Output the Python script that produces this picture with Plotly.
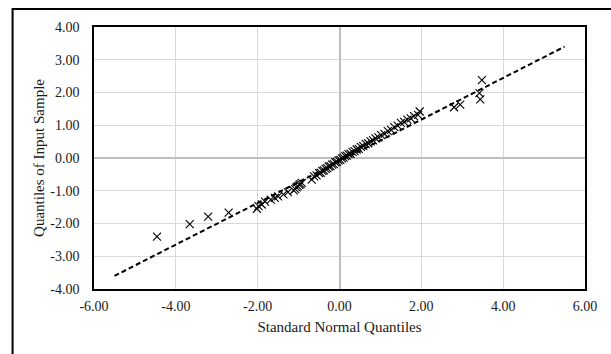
import plotly.graph_objects as go

# Sample points (standard normal quantile, sample quantile)
norm_q = [-4.46, -3.66, -3.21, -2.71,
          -2.02, -1.98, -1.90, -1.82, -1.68, -1.58, -1.50, -1.37, -1.26, -1.12,
          -1.08, -1.05, -1.02, -0.98, -0.95, -0.92,
          -0.68, -0.62, -0.56, -0.50, -0.46, -0.42, -0.38, -0.34, -0.30, -0.26,
          -0.22, -0.18, -0.14, -0.10, -0.06, -0.02, 0.02, 0.06, 0.10, 0.14,
          0.18, 0.22, 0.27, 0.32, 0.37, 0.42, 0.47, 0.52, 0.58, 0.64,
          0.70, 0.76, 0.82, 0.88, 0.95, 1.02, 1.10, 1.18, 1.26, 1.34,
          1.42, 1.50, 1.58, 1.66, 1.74, 1.82, 1.92, 1.96,
          2.80, 2.95, 3.42, 3.44, 3.48]
sample_q = [-2.40, -2.02, -1.79, -1.67,
            -1.55, -1.47, -1.42, -1.33, -1.27, -1.22, -1.17, -1.11, -1.04, -0.99,
            -0.95, -0.90, -0.86, -0.82, -0.80, -0.76,
            -0.66, -0.56, -0.53, -0.46, -0.45, -0.39, -0.38, -0.33, -0.31, -0.26,
            -0.25, -0.20, -0.19, -0.13, -0.12, -0.07, -0.06, -0.01, 0.01, 0.06,
            0.07, 0.12, 0.13, 0.19, 0.21, 0.26, 0.28, 0.34, 0.36, 0.43,
            0.45, 0.51, 0.54, 0.60, 0.63, 0.70, 0.74, 0.82, 0.86, 0.94,
            0.99, 1.07, 1.10, 1.17, 1.21, 1.28, 1.32, 1.42,
            1.55, 1.63, 1.98, 1.79, 2.38]

# Reference line endpoints
line_x = [-5.5, 5.5]
line_y = [-3.6, 3.4]

tick_vals_x = [-6, -4, -2, 0, 2, 4, 6]
tick_text_x = ["-6.00", "-4.00", "-2.00", "0.00", "2.00", "4.00", "6.00"]
tick_vals_y = [-4, -3, -2, -1, 0, 1, 2, 3, 4]
tick_text_y = ["-4.00", "-3.00", "-2.00", "-1.00", "0.00", "1.00", "2.00", "3.00", "4.00"]

FONT = "Liberation Serif, Times New Roman, serif"

fig = go.Figure()
fig.add_trace(go.Scatter(
    x=norm_q, y=sample_q, mode="markers",
    marker=dict(symbol="x-thin", size=8, line=dict(color="black", width=1.1), color="black"),
    showlegend=False, cliponaxis=False))
fig.add_trace(go.Scatter(
    x=line_x, y=line_y, mode="lines",
    line=dict(color="black", width=2, dash="5px,3px"),
    showlegend=False))

W, H = 611, 354
ml, mr, mt, mb = 93.5, 26, 27, 65
pw = W - ml - mr
ph = H - mt - mb

fig.update_layout(
    width=W, height=H,
    margin=dict(l=ml, r=mr, t=mt, b=mb, pad=0),
    paper_bgcolor="white", plot_bgcolor="white",
    font=dict(family=FONT, size=14, color="#1a1a1a"),
    xaxis=dict(range=[-6, 6], tickvals=tick_vals_x, ticktext=tick_text_x,
               showgrid=True, gridcolor="#d9d9d9", gridwidth=1,
               zeroline=True, zerolinecolor="#bfbfbf", zerolinewidth=2,
               showline=True, linecolor="black", linewidth=1.5, mirror=True,
               ticks="", ticklabelstandoff=3,
               title=dict(text="Standard Normal Quantiles", font=dict(size=15), standoff=9)),
    yaxis=dict(range=[-4, 4], tickvals=tick_vals_y, ticktext=tick_text_y,
               showgrid=True, gridcolor="#d9d9d9", gridwidth=1,
               zeroline=True, zerolinecolor="#bfbfbf", zerolinewidth=2,
               showline=True, linecolor="black", linewidth=1.5, mirror=True,
               ticks="", ticklabelstandoff=10,
               title=dict(text="Quantiles of Input Sample", font=dict(size=15), standoff=2)),
)

# outer border frame (left and top visible)
fig.add_shape(type="rect", xref="paper", yref="paper",
              x0=(12 - ml) / pw, x1=(W + 20 - ml) / pw,
              y0=-(mb + 20) / ph, y1=(H - mb - 9) / ph,
              line=dict(color="black", width=2), layer="above")

fig.write_html("out.html")
